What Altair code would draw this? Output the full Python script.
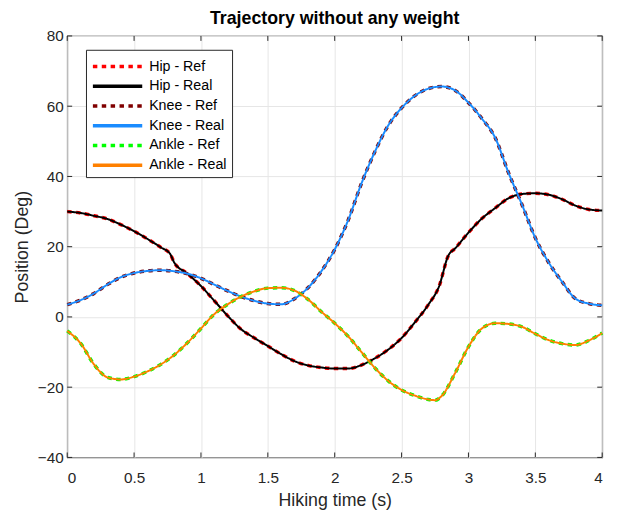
import altair as alt
import pandas as pd

# ---- data ----
hip_t = [0, 0.1, 0.2, 0.3, 0.4, 0.5, 0.6, 0.7, 0.77, 0.8, 0.9, 1.0, 1.1, 1.2, 1.3, 1.4, 1.5, 1.6, 1.7, 1.8,
         1.9, 2.0, 2.1, 2.2, 2.3, 2.4, 2.5, 2.6, 2.7, 2.78, 2.85, 2.9, 3.0, 3.1, 3.2, 3.3, 3.4, 3.5, 3.6,
         3.7, 3.8, 3.9, 4.0]
hip_v = [30.0, 29.6, 28.8, 27.9, 26.3, 24.4, 22.2, 19.8, 17.9, 15.5, 12.3, 8.8, 4.6, 0.3, -3.5, -6.0, -8.3,
         -10.6, -12.6, -13.8, -14.4, -14.7, -14.7, -13.7, -11.8, -9.3, -6.0, -1.5, 3.5, 8.7, 17.5, 19.5,
         24.0, 28.0, 31.0, 33.8, 35.0, 35.2, 34.8, 33.5, 31.7, 30.6, 30.3]

knee_t = [0, 0.1, 0.2, 0.3, 0.4, 0.5, 0.6, 0.7, 0.8, 0.9, 1.0, 1.1, 1.2, 1.3, 1.4, 1.5, 1.6, 1.7, 1.8, 1.9,
          2.0, 2.1, 2.2, 2.3, 2.4, 2.5, 2.6, 2.7, 2.8, 2.9, 3.0, 3.1, 3.2, 3.3, 3.4, 3.5, 3.6, 3.7, 3.8,
          3.9, 4.0]
knee_v = [3.5, 4.8, 6.7, 9.2, 11.3, 12.5, 13.1, 13.3, 13.0, 12.3, 11.0, 9.2, 7.4, 5.8, 4.6, 3.8, 3.6, 5.2,
          8.3, 13.0, 19.2, 27.5, 38.0, 47.0, 54.5, 59.5, 63.0, 65.0, 65.6, 64.5, 61.0, 56.5, 51.0, 41.0,
          32.0, 22.5, 15.5, 10.0, 5.2, 3.8, 3.3]

ankle_t = [0, 0.1, 0.2, 0.3, 0.4, 0.5, 0.6, 0.7, 0.8, 0.9, 1.0, 1.1, 1.2, 1.3, 1.4, 1.5, 1.6, 1.7, 1.8, 1.9,
           2.0, 2.1, 2.2, 2.3, 2.4, 2.5, 2.6, 2.7, 2.75, 2.8, 2.9, 3.0, 3.1, 3.2, 3.3, 3.4, 3.5, 3.6, 3.7,
           3.8, 3.9, 4.0]
ankle_v = [-4.0, -7.5, -13.5, -17.2, -17.8, -17.0, -15.5, -13.5, -10.8, -7.3, -3.3, 0.8, 3.6, 5.8, 7.3, 8.2,
           8.3, 7.5, 5.0, 1.5, -1.8, -5.5, -10.0, -14.5, -18.2, -20.8, -22.4, -23.5, -23.7, -22.5, -16.0,
           -8.5, -3.3, -1.8, -2.0, -2.8, -4.8, -6.6, -7.6, -8.0, -6.7, -4.6]

series_names = ["Hip - Ref", "Hip - Real", "Knee - Ref", "Knee - Real", "Ankle - Ref", "Ankle - Real"]
series_colors = ["#ff0000", "#000000", "#800000", "#1a8cff", "#00ff00", "#ff8000"]
series_dash = [[4.5, 4.5], [1, 0], [4.5, 4.5], [1, 0], [4.5, 4.5], [1, 0]]
series_width = [3.5, 2, 3.5, 2, 3.5, 2]

x_ticks = [0, 0.5, 1, 1.5, 2, 2.5, 3, 3.5, 4]
y_ticks = [-40, -20, 0, 20, 40, 60, 80]

rows = []
for i, (tt, vv) in enumerate([(hip_t, hip_v), (knee_t, knee_v), (ankle_t, ankle_v)]):
    for j in (2 * i, 2 * i + 1):
        for k, (a, b) in enumerate(zip(tt, vv)):
            rows.append({"t": a, "v": b, "series": series_names[j], "w": series_width[j], "o": k})
df = pd.DataFrame(rows)

W, H = 542, 427
FONT = "Liberation Sans"

xs = alt.Scale(domain=[0, 4], nice=False, zero=False)
ys = alt.Scale(domain=[-40, 80], nice=False, zero=False)

lines = alt.Chart(df).mark_line(interpolate="monotone", strokeCap="butt").encode(
    x=alt.X("t:Q", scale=xs, title="Hiking time (s)",
            axis=alt.Axis(values=x_ticks, ticks=False, domain=False, labelPadding=13, titlePadding=6,
                          labelExpr="datum.value")),
    y=alt.Y("v:Q", scale=ys, title="Position (Deg)",
            axis=alt.Axis(values=y_ticks, ticks=False, domain=False, labelPadding=4, titlePadding=6)),
    color=alt.Color("series:N", scale=alt.Scale(domain=series_names, range=series_colors), title=None,
                    legend=alt.Legend(orient="none", legendX=19, legendY=14, symbolType="M-1,0H4",
                                      symbolSize=400, symbolStrokeWidth=3.5, labelFontSize=14.4,
                                      labelFont=FONT, labelColor="#000000", rowPadding=1,
                                      strokeColor="#262626", fillColor="#ffffff", padding=5,
                                      labelOffset=35, labelLimit=200)),
    strokeDash=alt.StrokeDash("series:N", scale=alt.Scale(domain=series_names, range=series_dash), title=None),
    strokeWidth=alt.StrokeWidth("w:Q", scale=None, legend=None),
    order="o:Q",
)

xt = pd.DataFrame({"x": x_ticks})
yt = pd.DataFrame({"y": y_ticks})
tick_color = "#262626"
xb = alt.Chart(xt).mark_rule(color=tick_color, strokeWidth=1).encode(
    x=alt.X("x:Q", scale=xs), y=alt.value(H), y2=alt.value(H - 5))
xtp = alt.Chart(xt).mark_rule(color=tick_color, strokeWidth=1).encode(
    x=alt.X("x:Q", scale=xs), y=alt.value(0), y2=alt.value(5))
yl = alt.Chart(yt).mark_rule(color=tick_color, strokeWidth=1).encode(
    y=alt.Y("y:Q", scale=ys), x=alt.value(0), x2=alt.value(5))
yr = alt.Chart(yt).mark_rule(color=tick_color, strokeWidth=1).encode(
    y=alt.Y("y:Q", scale=ys), x=alt.value(W), x2=alt.value(W - 5))

chart = alt.layer(lines, xb, xtp, yl, yr).properties(
    width=W, height=H,
    title=alt.TitleParams("Trajectory without any weight", font=FONT, fontSize=18, fontWeight="bold",
                          color="#000000", offset=1),
    autosize=alt.AutoSizeParams(type="none"),
    padding={"left": 60, "top": 25, "right": 15, "bottom": 54},
    background="#ffffff",
).configure_view(stroke="#262626", strokeWidth=1.2).configure_axis(
    labelFont=FONT, labelFontSize=15.5, labelColor="#262626", titleFont=FONT, titleFontSize=18,
    titleFontWeight="normal", titleColor="#262626", gridColor="#e6e6e6", gridWidth=1,
)

chart.save("out.html", embed_options={"renderer": "svg", "actions": False})
